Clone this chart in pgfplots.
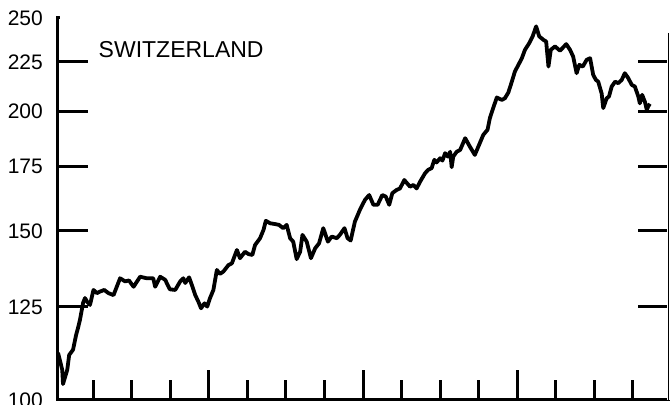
\documentclass[border=0pt]{standalone}
\usepackage{fontspec}
\setmainfont{Liberation Sans}
\usepackage{pgfplots}
\pgfplotsset{compat=1.18}

% index level, x in quarters from the start of the series
\pgfplotstableread{
x v
0.09 112.0
0.20 107.5
0.22 103.9
0.33 107.5
0.38 111.4
0.48 112.8
0.56 116.9
0.61 118.9
0.66 121.2
0.74 126.2
0.79 127.7
0.85 126.5
0.92 125.6
1.01 130.2
1.10 129.2
1.18 129.7
1.29 130.2
1.40 129.2
1.53 128.6
1.70 133.9
1.83 132.9
1.93 133.2
2.05 131.2
2.22 134.4
2.39 133.9
2.56 133.9
2.61 131.2
2.74 134.4
2.87 133.4
2.99 130.4
3.13 130.2
3.26 132.9
3.34 133.9
3.39 132.4
3.49 134.2
3.56 131.8
3.65 128.6
3.73 126.6
3.80 124.6
3.89 126.1
3.96 125.1
4.03 127.6
4.12 130.2
4.21 136.6
4.29 135.3
4.38 136.1
4.51 138.2
4.60 138.8
4.73 143.3
4.81 140.5
4.94 142.7
5.03 141.9
5.13 141.6
5.20 145.0
5.33 147.4
5.42 150.4
5.48 153.7
5.59 152.8
5.72 152.5
5.82 152.2
5.93 151.0
6.02 152.2
6.11 147.4
6.19 146.2
6.28 140.2
6.37 142.7
6.43 148.6
6.54 146.2
6.65 140.5
6.76 143.9
6.86 145.6
6.97 151.0
7.09 146.2
7.19 148.0
7.32 147.4
7.40 148.6
7.52 151.0
7.60 147.4
7.68 146.6
7.79 153.4
7.92 157.8
8.05 161.6
8.16 163.5
8.27 159.7
8.38 159.7
8.50 163.5
8.59 162.9
8.68 159.7
8.76 164.2
8.87 165.5
8.96 166.1
9.07 169.5
9.22 166.8
9.31 167.5
9.39 166.1
9.48 168.8
9.61 172.3
9.69 173.7
9.78 174.4
9.85 177.9
9.91 176.8
10.00 178.6
10.06 177.6
10.13 180.8
10.20 179.3
10.26 181.4
10.30 174.8
10.34 179.3
10.43 181.4
10.52 182.2
10.65 187.4
10.77 183.7
10.90 180.0
11.01 184.4
11.12 188.9
11.23 191.2
11.29 196.6
11.38 201.6
11.47 206.6
11.60 205.4
11.68 206.2
11.77 209.1
11.86 214.6
11.94 219.9
12.03 223.4
12.12 227.0
12.20 231.6
12.31 235.3
12.40 239.2
12.49 245.0
12.57 239.2
12.68 237.2
12.75 236.3
12.81 222.5
12.87 231.6
12.98 233.5
13.11 231.1
13.27 234.8
13.37 231.6
13.45 227.9
13.54 219.0
13.61 223.4
13.70 222.5
13.80 226.1
13.89 227.0
13.97 218.1
14.04 215.5
14.10 214.6
14.19 208.5
14.23 201.4
14.32 206.2
14.38 207.1
14.45 212.1
14.54 214.6
14.62 213.8
14.71 215.5
14.79 219.0
14.88 216.4
14.97 212.9
15.05 212.1
15.14 207.1
15.18 203.7
15.24 207.9
15.31 204.5
15.36 200.6
15.40 202.3
15.44 203.5
}\swiss

\begin{document}
\begin{tikzpicture}[font=\fontsize{21}{21}\selectfont]
\begin{axis}[
  scale only axis,
  width=610pt, height=382pt,
  ymode=log,
  xmin=0.09, xmax=15.91,
  ymin=100, ymax=250,
  axis line style={black, line width=3pt},
  tick align=inside,
  xtick pos=lower,
  ytick pos=both,
  major tick length=30pt,
  minor tick length=20pt,
  tick style={black, line width=3pt},
  xtick={4,8,12},
  minor xtick={1,2,3,5,6,7,9,10,11,13,14,15},
  xticklabels={},
  ytick={100,125,150,175,200,225},
  yticklabels={100,125,150,175,200,225},
  extra y ticks={250},
  extra y tick labels={250},
  extra y tick style={major tick length=40pt},
  yticklabel style={anchor=east, inner sep=0pt, xshift=-15pt},
]
\addplot[black, line width=3.8pt, line join=round, no markers] table[x=x, y=v] {\swiss};
\node[anchor=west, font=\fontsize{23}{23}\selectfont] at (axis description cs:0.061,0.916) {SWITZERLAND};
\coordinate (sw) at (rel axis cs:0,0);
\coordinate (ne) at (rel axis cs:1,1);
\end{axis}
% hide the top frame edge and thin the right one
\draw[white, line width=4pt] ([xshift=1.6pt]sw |- ne) -- ([xshift=4pt]ne);
\draw[white, line width=2.2pt] ([xshift=0.4pt]ne) -- ([xshift=0.4pt]sw -| ne);
\draw[black, line width=1pt] ([yshift=-15pt]ne) -- (sw -| ne);
\pgfresetboundingbox
\path[use as bounding box] ([xshift=-58pt,yshift=-5pt]sw) rectangle ([xshift=4pt,yshift=18pt]ne);
\end{tikzpicture}
\end{document}
